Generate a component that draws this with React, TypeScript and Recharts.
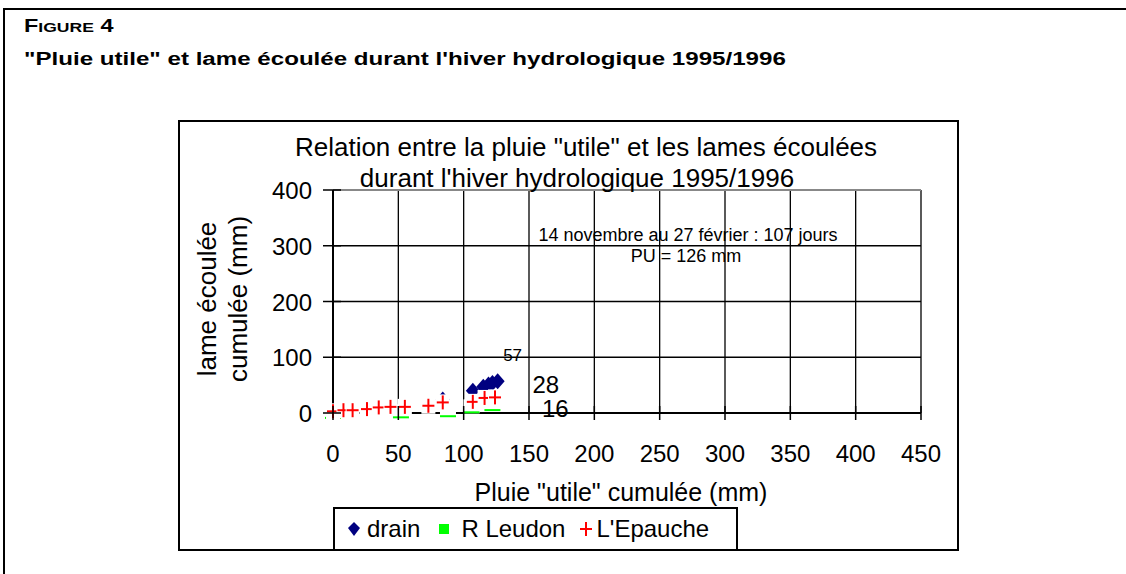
import { ScatterChart, Scatter, XAxis, YAxis, CartesianGrid, ReferenceLine, LabelList } from 'recharts';

const FONT = '"Liberation Sans", Arial, sans-serif';
const NAVY = '#000080';
const GREEN = '#00ff00';
const RED = '#ff0000';

/* values (mm) */
const xTicks = [0, 50, 100, 150, 200, 250, 300, 350, 400, 450];
const yTicks = [0, 100, 200, 300, 400];

const drainX = [84, 107, 115, 119, 122, 126];
const drainY = [24, 40, 47, 51, 54, 57];
const leudonX = [0, 52, 88, 106, 122];
const leudonY = [2, 3, 5, 12, 16];
const epaucheX = [0, 8, 15, 26, 35, 44, 55, 73, 84, 107, 116, 124];
const epaucheY = [3, 5, 5, 7, 10, 11, 11, 13, 19, 20, 27, 28];

const finals = { drain: '57', leudon: '16', epauche: '28' };

const zip = (xs: number[], ys: number[]) => xs.map((x, i) => ({ x, y: ys[i] }));
const drain = zip(drainX, drainY);
const leudon = zip(leudonX, leudonY);
const epauche = zip(epaucheX, epaucheY);

const Diamond = (p: any) => (
  <polygon points={`${p.cx},${p.cy - 8} ${p.cx + 7},${p.cy} ${p.cx},${p.cy + 8} ${p.cx - 7},${p.cy}`} fill={NAVY} />
);
const Dash = (p: any) => (
  <g>
    <rect x={p.cx - 8} y={p.cy - 7} width={16} height={14} fill="#fff" />
    <line x1={p.cx - 8} x2={p.cx + 8} y1={p.cy + 6} y2={p.cy + 6} stroke={GREEN} strokeWidth={2} />
  </g>
);
const Plus = (p: any) => (
  <g>
    <rect x={p.cx - 7} y={p.cy - 8} width={14} height={16} fill="#fff" />
    <line x1={p.cx - 6} x2={p.cx + 6} y1={p.cy} y2={p.cy} stroke={RED} strokeWidth={2} />
    <line x1={p.cx} x2={p.cx} y1={p.cy - 7} y2={p.cy + 7} stroke={RED} strokeWidth={2} />
  </g>
);

const XTick = (p: any) => (
  <g>
    <line x1={p.x} x2={p.x} y1={p.y - 9} y2={p.y + 5} stroke="#000" strokeWidth={1.5} />
    <text x={p.x} y={p.y + 47} textAnchor="middle" fontSize={24} fontFamily={FONT} fill="#000">{p.payload.value}</text>
  </g>
);
const YTick = (p: any) => (
  <g>
    <line x1={p.x - 8} x2={p.x + 10} y1={p.y} y2={p.y} stroke="#000" strokeWidth={1.5} />
    <text x={p.x - 19} y={p.y + 9} textAnchor="end" fontSize={24} fontFamily={FONT} fill="#000">{p.payload.value}</text>
  </g>
);

// end-of-series value labels, placed by hand as in the original
const endLabel = (n: number, text: string, dx: number, dy: number, size: number) => (p: any) =>
  p.index === n - 1 ? (
    <text x={p.x + dx} y={p.y + dy} fontSize={size} fontFamily={FONT} fill="#000">{text}</text>
  ) : null;

const abs = (x: number, y: number, extra: any = {}) => ({
  position: 'absolute' as const, left: x, top: y, transform: 'translate(-50%,-50%)', whiteSpace: 'nowrap' as const, ...extra,
});

export default function App() {
  return (
    <div style={{ position: 'absolute', left: 0, top: 0, width: 1126, height: 574, overflow: 'hidden', background: '#fff', fontFamily: FONT, color: '#000' }}>
      {/* outer figure frame */}
      <div style={{ position: 'absolute', left: 3, top: 8, width: 1140, height: 600, border: '2px solid #000' }} />
      <div style={{ position: 'absolute', left: 24, top: 16, fontWeight: 'bold', fontSize: 18, transform: 'scaleX(1.3)', transformOrigin: 'left' }}>
        F<span style={{ fontSize: 13.5 }}>IGURE</span> 4
      </div>
      <div style={{ position: 'absolute', left: 24, top: 49, fontWeight: 'bold', fontSize: 18, whiteSpace: 'nowrap', transform: 'scaleX(1.34)', transformOrigin: 'left' }}>
        "Pluie utile" et lame écoulée durant l'hiver hydrologique 1995/1996
      </div>

      {/* chart frame */}
      <div style={{ position: 'absolute', left: 178, top: 120, width: 777, height: 427, border: '2px solid #000' }} />

      <div style={{ position: 'absolute', left: 0, top: 0 }}>
        <ScatterChart width={1126} height={574} margin={{ top: 190, right: 205, bottom: 131, left: 273 }}>
          <CartesianGrid stroke="#000" strokeWidth={1.3} />
          <XAxis type="number" dataKey="x" domain={[0, 450]} ticks={xTicks} height={30}
            axisLine={{ stroke: '#000', strokeWidth: 2 }} tickLine={false} tickSize={0} tick={<XTick />} interval={0} />
          <YAxis type="number" dataKey="y" domain={[0, 400]} ticks={yTicks} width={60}
            axisLine={{ stroke: '#000', strokeWidth: 2 }} tickLine={false} tickSize={0} tick={<YTick />} interval={0} />
          <ReferenceLine y={400} stroke="#888" strokeWidth={2} />
          <Scatter name="drain" data={drain} shape={<Diamond />} isAnimationActive={false}>
            <LabelList dataKey="y" content={endLabel(drain.length, finals.drain, 10, -16, 17)} />
          </Scatter>
          <Scatter name="R Leudon" data={leudon} shape={<Dash />} isAnimationActive={false}>
            <LabelList dataKey="y" content={endLabel(leudon.length, finals.leudon, 54, 17, 24)} />
          </Scatter>
          <Scatter name="L'Epauche" data={epauche} shape={<Plus />} isAnimationActive={false}>
            <LabelList dataKey="y" content={endLabel(epauche.length, finals.epauche, 42, 0, 24)} />
          </Scatter>
        </ScatterChart>
      </div>

      {/* chart title and notes */}
      <div style={abs(586, 147, { fontSize: 26 })}>Relation entre la pluie "utile" et les lames écoulées</div>
      <div style={abs(577, 178, { fontSize: 26 })}>durant l'hiver hydrologique 1995/1996</div>
      <div style={abs(688, 235, { fontSize: 18 })}>14 novembre au 27 février : 107 jours</div>
      <div style={abs(686, 256, { fontSize: 18 })}>PU = 126 mm</div>

      {/* axis titles */}
      <div style={abs(207, 299, { fontSize: 26, transform: 'translate(-50%,-50%) rotate(-90deg)' })}>lame écoulée</div>
      <div style={abs(238, 299, { fontSize: 26, transform: 'translate(-50%,-50%) rotate(-90deg)' })}>cumulée (mm)</div>
      <div style={abs(621, 492, { fontSize: 25 })}>Pluie "utile" cumulée (mm)</div>

      {/* legend */}
      <div style={{ position: 'absolute', left: 333, top: 507, width: 389, height: 40, border: '2px solid #000', background: '#fff',
        display: 'flex', alignItems: 'center', fontSize: 24, paddingLeft: 12, boxSizing: 'content-box' }}>
        <svg width={14} height={16} style={{ marginRight: 6 }}><polygon points="7,1 13,7 7,15 1,7" fill={NAVY} /></svg>
        <span style={{ marginRight: 18 }}>drain</span>
        <svg width={12} height={12} style={{ marginRight: 11 }}><rect x={1} y={1} width={10} height={10} fill={GREEN} /></svg>
        <span style={{ marginRight: 14 }}>R Leudon</span>
        <svg width={14} height={16} style={{ marginRight: 3 }}>
          <line x1={1} x2={13} y1={8} y2={8} stroke={RED} strokeWidth={2} /><line x1={7} x2={7} y1={1} y2={15} stroke={RED} strokeWidth={2} />
        </svg>
        <span>L'Epauche</span>
      </div>
    </div>
  );
}
